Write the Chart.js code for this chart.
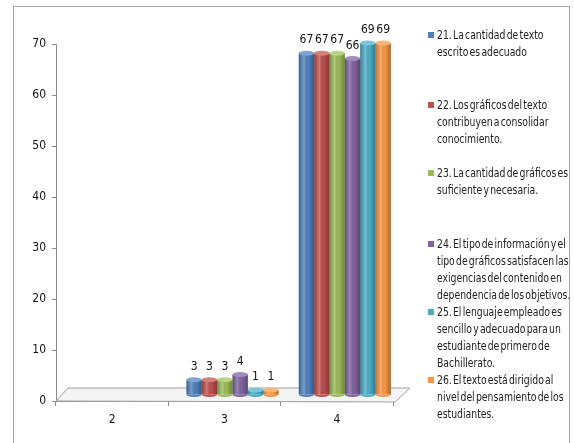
<!DOCTYPE html>
<html>
<head>
<meta charset="utf-8">
<script src="https://cdn.jsdelivr.net/npm/chart.js@4/dist/chart.umd.min.js"></script>
<style>
  body { margin: 0; background: #fff; }
  #wrap { position: relative; width: 574px; height: 443px; overflow: hidden; }
  #frame { position: absolute; left: 13px; top: 6px; width: 557px; height: 450px; border: 1px solid #a6a6a6; box-sizing: border-box; }
  #legend { position: absolute; left: 428px; top: 0; width: 146px; font-family: 'DejaVu Sans Condensed', 'Liberation Sans', sans-serif; font-size: 12px; color: #222; }
  .item { position: absolute; left: 0; width: 146px; }
  .sq { position: absolute; left: 0; top: 5px; width: 6px; height: 6px; }
  .txt { position: absolute; left: 9px; white-space: nowrap; line-height: 17px; word-spacing: -2px; transform: scaleX(0.86); transform-origin: 0 0; }
  canvas { position: absolute; left: 0; top: 0; }
</style>
</head>
<body>
<div id="wrap">
  <div id="frame"></div>
  <canvas id="chart" width="574" height="443"></canvas>
  <div id="legend"></div>
</div>
<script>
// categories and series
const categories = ['2', '3', '4'];
const seriesNames = [
  ['21. La cantidad de texto', 'escrito es adecuado'],
  ['22. Los gráficos del texto', 'contribuyen a consolidar', 'conocimiento.'],
  ['23. La cantidad de gráficos es', 'suficiente y necesaria.'],
  ['24. El tipo de información y el', 'tipo de gráficos satisfacen las', 'exigencias del contenido en', 'dependencia de los objetivos.'],
  ['25. El lenguaje empleado es', 'sencillo y adecuado para un', 'estudiante de primero de', 'Bachillerato.'],
  ['26. El texto está dirigido al', 'nivel del pensamiento de los', 'estudiantes.']
];
const s21 = [0, 3, 67];
const s22 = [0, 3, 67];
const s23 = [0, 3, 67];
const s24 = [0, 4, 66];
const s25 = [0, 1, 69];
const s26 = [0, 1, 69];
const yTicks = [0, 10, 20, 30, 40, 50, 60, 70];

const colors = ['#4F81BD', '#C0504D', '#9BBB59', '#8064A2', '#4BACC6', '#F79646'];
const capColors = ['#7FA3D3', '#D57F7C', '#B8D286', '#A28BBD', '#7CC6DA', '#F9B57A'];
const legendTops = [27, 97, 165, 236, 304, 372];
const font = "'DejaVu Sans Condensed', 'Liberation Sans', sans-serif";
// 3d depth shift of the bars
const depthX = 8, depthY = -6;

// legend built as html
const legend = document.getElementById('legend');
seriesNames.forEach((lines, i) => {
  const item = document.createElement('div');
  item.className = 'item';
  item.style.top = legendTops[i] + 'px';
  item.innerHTML = `<div class="sq" style="background:${colors[i]}"></div><div class="txt">${lines.join('<br>')}</div>`;
  legend.appendChild(item);
});

// floor under the bars, then shift bars into depth
const floorPlugin = {
  id: 'floor',
  beforeDatasetsDraw(chart) {
    const { ctx, chartArea } = chart;
    const l = chartArea.left, r = chartArea.right + 2, b = chartArea.bottom;
    ctx.save();
    ctx.beginPath();
    ctx.moveTo(l, b);
    ctx.lineTo(l + 12, b - 13);
    ctx.lineTo(r + 15, b - 13);
    ctx.lineTo(r, b + 1);
    ctx.closePath();
    ctx.fillStyle = '#f4f4f4';
    ctx.fill();
    ctx.strokeStyle = '#a0a0a0';
    ctx.lineWidth = 1;
    ctx.stroke();
    ctx.restore();
    ctx.save();
    ctx.translate(depthX, depthY);
  },
  afterDatasetsDraw(chart) {
    chart.ctx.restore();
  }
};

// cylinder shading and value labels
const cylinderPlugin = {
  id: 'cylinder',
  afterDatasetsDraw(chart) {
    const ctx = chart.ctx;
    ctx.save();
    ctx.translate(depthX, depthY);
    chart.data.datasets.forEach((ds, di) => {
      const meta = chart.getDatasetMeta(di);
      meta.data.forEach((bar, i) => {
        const v = ds.data[i];
        if (!v) return;
        const w = bar.width, x0 = bar.x - w / 2;
        const g = ctx.createLinearGradient(x0, 0, x0 + w, 0);
        g.addColorStop(0, 'rgba(0,0,0,0.25)');
        g.addColorStop(0.35, 'rgba(255,255,255,0.22)');
        g.addColorStop(0.6, 'rgba(0,0,0,0)');
        g.addColorStop(1, 'rgba(0,0,0,0.3)');
        ctx.fillStyle = g;
        ctx.fillRect(x0, bar.y, w, bar.base - bar.y);
        // bottom rounding
        ctx.beginPath();
        ctx.ellipse(bar.x, bar.base, w / 2, 2.5, 0, 0, Math.PI);
        ctx.fillStyle = colors[di];
        ctx.fill();
        // top cap
        ctx.beginPath();
        ctx.ellipse(bar.x, bar.y, w / 2, 2.5, 0, 0, Math.PI * 2);
        ctx.fillStyle = capColors[di];
        ctx.fill();
        // value label
        ctx.fillStyle = '#111';
        ctx.font = '12px ' + font;
        ctx.textAlign = 'center';
        ctx.textBaseline = 'middle';
        ctx.fillText(String(v), bar.x, bar.y - 13);
      });
    });
    ctx.restore();
  }
};

const datasets = [s21, s22, s23, s24, s25, s26].map((d, i) => ({
  label: seriesNames[i].join(' '),
  data: d,
  backgroundColor: colors[i],
  borderWidth: 0,
  categoryPercentage: 0.82,
  barPercentage: 1.0
}));

new Chart(document.getElementById('chart'), {
  type: 'bar',
  data: { labels: categories, datasets: datasets },
  options: {
    responsive: false,
    animation: false,
    layout: { padding: { left: 0, right: 181, top: 44, bottom: 0 } },
    plugins: {
      legend: { display: false },
      tooltip: { enabled: false }
    },
    scales: {
      x: {
        afterFit(s) { s.height = 42; },
        grid: { display: true, drawOnChartArea: false, offset: true, tickLength: 5, color: '#8c8c8c' },
        border: { display: true, color: '#8c8c8c' },
        ticks: { padding: 7, color: '#111', font: { family: font, size: 12 } }
      },
      y: {
        min: 0,
        max: 70,
        afterFit(s) { s.width = 56; },
        afterBuildTicks(s) { s.ticks = yTicks.map(v => ({ value: v })); },
        grid: { display: true, drawOnChartArea: false, tickLength: 4, color: '#8c8c8c' },
        border: { display: true, color: '#8c8c8c' },
        ticks: { padding: 6, color: '#111', font: { family: font, size: 12 } }
      }
    }
  },
  plugins: [floorPlugin, cylinderPlugin]
});
</script>
</body>
</html>
